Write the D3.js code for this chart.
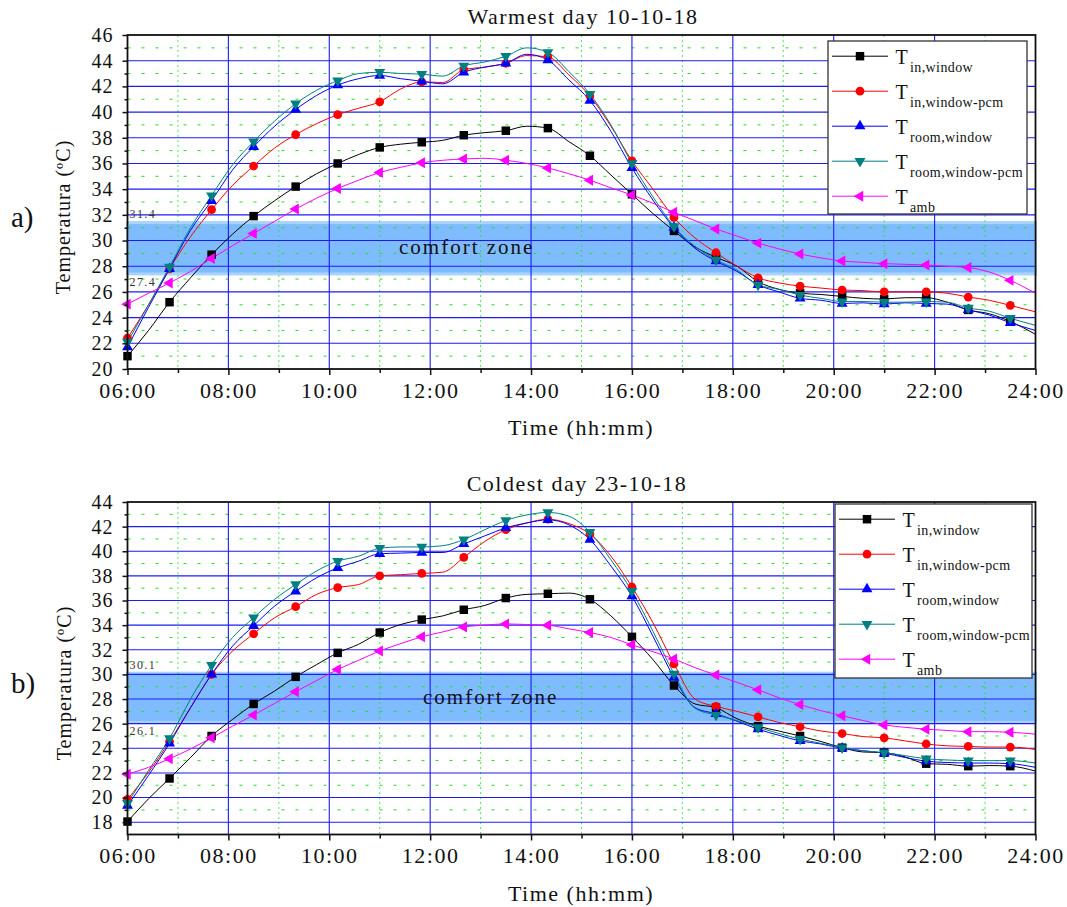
<!DOCTYPE html>
<html>
<head>
<meta charset="utf-8">
<script src="https://cdn.jsdelivr.net/npm/d3@7"></script>
<style>
  body { margin: 0; background: #ffffff; }
  svg text { font-family: "Liberation Serif", "Times New Roman", serif; fill: #111; }
</style>
</head>
<body>
<svg id="fig" width="1067" height="907"></svg>
<script>
// Sampling instants (every 25 min, markers on every second sample)
const sampleTimes = ["06:00","06:25","06:50","07:15","07:40","08:05","08:30","08:55","09:20","09:45",
  "10:10","10:35","11:00","11:25","11:50","12:15","12:40","13:05","13:30","13:55",
  "14:20","14:45","15:10","15:35","16:00","16:25","16:50","17:15","17:40","18:05",
  "18:30","18:55","19:20","19:45","20:10","20:35","21:00","21:25","21:50","22:15",
  "22:40","23:05","23:30","24:00"];

const timeTicks = ["06:00","08:00","10:00","12:00","14:00","16:00","18:00","20:00","22:00","24:00"];

const seriesKeys = ["in,window", "in,window-pcm", "room,window", "room,window-pcm", "amb"];

// Warmest day 10-10-18 (°C)
const warmInWindow = [21.0,23.0,25.2,27.1,28.9,30.5,31.9,33.1,34.2,35.2,36.0,36.7,37.25,37.5,37.65,37.8,38.2,38.4,38.55,38.9,
  38.75,37.7,36.6,35.1,33.6,32.1,30.75,29.5,28.7,28.0,26.8,26.2,25.9,25.8,25.65,25.5,25.45,25.55,25.55,25.2,24.6,24.3,23.7,22.7];
const warmInWindowPcm = [22.4,25.0,27.8,30.3,32.4,34.3,35.8,37.2,38.25,39.1,39.8,40.3,40.8,41.8,42.35,42.3,43.3,43.5,43.8,44.4,
  44.3,42.9,41.25,38.9,36.2,34.0,31.8,30.2,29.05,28.0,27.1,26.7,26.45,26.3,26.15,26.1,26.0,26.0,26.0,25.9,25.6,25.35,24.95,24.45];
const warmRoomWindow = [21.7,24.8,27.8,30.8,33.1,35.5,37.3,38.9,40.2,41.3,42.1,42.6,42.85,42.6,42.4,42.2,43.1,43.5,43.8,44.5,
  44.05,42.5,40.9,38.5,35.65,33.15,31.0,29.4,28.4,27.6,26.55,26.0,25.5,25.35,25.1,25.15,25.05,25.15,25.1,25.05,24.6,24.2,23.6,23.0];
const warmRoomWindowPcm = [22.1,25.0,27.95,31.0,33.5,35.9,37.7,39.3,40.65,41.7,42.45,43.0,43.1,43.0,42.95,42.8,43.6,43.9,44.35,45.0,
  44.65,43.15,41.4,39.0,36.0,33.4,31.1,29.55,28.5,27.7,26.55,26.2,25.75,25.5,25.25,25.25,25.2,25.2,25.25,25.2,24.75,24.5,23.95,23.4];
const warmAmb = [25.05,25.9,26.7,27.6,28.6,29.6,30.55,31.5,32.45,33.3,34.05,34.7,35.3,35.7,36.05,36.25,36.35,36.4,36.25,36.0,
  35.65,35.2,34.7,34.1,33.55,32.9,32.2,31.55,30.9,30.35,29.8,29.35,28.95,28.65,28.4,28.3,28.2,28.15,28.1,28.0,27.9,27.55,26.9,25.9];

// Coldest day 23-10-18 (°C)
const coldInWindow = [18.05,19.9,21.55,23.25,25.0,26.35,27.6,28.65,29.8,30.8,31.75,32.45,33.4,34.05,34.45,34.75,35.25,35.6,36.2,36.5,
  36.55,36.6,36.1,34.75,33.05,31.2,29.1,27.6,27.3,26.4,25.8,25.4,25.0,24.55,24.05,23.7,23.65,23.3,22.75,22.7,22.55,22.6,22.55,22.15];
const coldInWindowPcm = [19.85,22.05,24.55,27.3,30.0,31.9,33.3,34.6,35.5,36.5,37.05,37.3,38.0,38.1,38.2,38.3,39.5,40.8,41.75,42.3,
  42.6,42.25,41.4,39.6,37.1,34.2,30.85,28.0,27.4,27.0,26.55,26.1,25.75,25.4,25.2,24.95,24.85,24.6,24.35,24.2,24.15,24.1,24.1,23.9];
const coldRoomWindow = [19.35,21.8,24.4,27.3,30.0,32.3,33.95,35.55,36.75,37.85,38.65,39.2,39.8,39.85,39.9,39.9,40.6,41.25,41.9,42.3,
  42.55,42.15,40.95,38.8,36.35,33.1,29.75,27.3,26.8,26.2,25.55,25.05,24.6,24.35,24.0,23.8,23.6,23.25,22.95,22.85,22.8,22.8,22.75,22.45];
const coldRoomWindowPcm = [19.55,22.2,24.8,28.0,30.75,33.0,34.6,36.1,37.3,38.4,39.2,39.6,40.25,40.35,40.35,40.45,40.95,41.75,42.5,42.95,
  43.15,42.85,41.55,39.3,36.75,33.5,30.05,27.25,26.7,26.25,25.7,25.2,24.75,24.4,24.05,23.8,23.65,23.4,23.15,23.05,23.0,23.0,23.0,22.8];
const coldAmb = [21.9,22.45,23.15,23.95,24.85,25.8,26.7,27.65,28.6,29.5,30.4,31.15,31.9,32.5,33.05,33.45,33.85,34.0,34.1,34.05,
  34.0,33.7,33.4,33.0,32.4,31.85,31.25,30.55,29.95,29.35,28.75,28.1,27.55,27.05,26.65,26.25,25.9,25.7,25.55,25.45,25.35,25.35,25.3,25.15];

const warmYTicks = [20,22,24,26,28,30,32,34,36,38,40,42,44,46];
const coldYTicks = [18,20,22,24,26,28,30,32,34,36,38,40,42,44];
const warmComfort = [27.4, 31.4];
const coldComfort = [26.1, 30.1];

const toHours = s => { const [h, m] = s.split(":").map(Number); return h + m / 60; };

const styles = [
  { color: "#000000", symbol: d3.symbolSquare,   size: 72, rotate: 0 },
  { color: "#ff0000", symbol: d3.symbolCircle,   size: 60, rotate: 0 },
  { color: "#0000ff", symbol: d3.symbolTriangle, size: 52, rotate: 0 },
  { color: "#008080", symbol: d3.symbolTriangle, size: 52, rotate: 180 },
  { color: "#ff00ff", symbol: d3.symbolTriangle, size: 52, rotate: -90 }
];

const svg = d3.select("#fig");
const left = 127.5, right = 1035.5;

function drawPanel(p) {
  const x = d3.scaleLinear().domain([6, 24]).range([left, right]);
  const y = d3.scaleLinear().domain(p.yDomain).range([p.bottom, p.top]);
  const g = svg.append("g");

  // comfort band
  g.append("rect")
    .attr("x", x(6)).attr("width", x(24) - x(6))
    .attr("y", y(p.comfort[1])).attr("height", y(p.comfort[0]) - y(p.comfort[1]))
    .attr("fill", "#7fbcff").attr("stroke", "#a8d3ff").attr("stroke-width", 3);

  // minor grid (odd values / odd hours)
  const minorY = d3.range(Math.ceil(p.yDomain[0]), p.yDomain[1]).filter(v => v % 2 === 1 && v > p.yDomain[0]);
  g.selectAll(null).data(minorY).join("line")
    .attr("x1", x(6)).attr("x2", x(24)).attr("y1", d => y(d)).attr("y2", d => y(d))
    .attr("stroke", "#22dd22").attr("stroke-width", 1).attr("stroke-dasharray", "3,11");
  const minorX = d3.range(7, 24, 2);
  g.selectAll(null).data(minorX).join("line")
    .attr("x1", d => x(d)).attr("x2", d => x(d)).attr("y1", p.top).attr("y2", p.bottom)
    .attr("stroke", "#22dd22").attr("stroke-width", 1).attr("stroke-dasharray", "2,3").attr("opacity", 0.75);

  // major grid
  g.selectAll(null).data(p.yTicks.filter(v => y(v) > p.top + 1 && y(v) < p.bottom - 1)).join("line")
    .attr("x1", x(6)).attr("x2", x(24)).attr("y1", d => y(d)).attr("y2", d => y(d))
    .attr("stroke", "#1c1cf0").attr("stroke-width", 1.1);
  g.selectAll(null).data(d3.range(8, 24, 2)).join("line")
    .attr("x1", d => x(d)).attr("x2", d => x(d)).attr("y1", p.top).attr("y2", p.bottom)
    .attr("stroke", "#1c1cf0").attr("stroke-width", 1.1);

  // comfort labels
  g.append("text").attr("x", x(6) + 2).attr("y", y(p.comfort[1]) - 4.5)
    .attr("font-size", 12).attr("letter-spacing", 1.4).style("fill", "#333").text(p.comfort[1].toFixed(1));
  g.append("text").attr("x", x(6) + 2).attr("y", y(p.comfort[0]) + 12.5)
    .attr("font-size", 12).attr("letter-spacing", 1.4).style("fill", "#333").text(p.comfort[0].toFixed(1));
  g.append("text").attr("x", p.zoneX).attr("y", y((p.comfort[0] + p.comfort[1]) / 2) + 6)
    .attr("font-size", 21).attr("letter-spacing", 2).text("comfort zone");

  // series
  const times = sampleTimes.map(toHours);
  const line = d3.line().x((d, i) => x(times[i])).y(d => y(d)).curve(d3.curveMonotoneX);
  p.series.forEach((vals, k) => {
    const st = styles[k];
    g.append("path").attr("d", line(vals)).attr("fill", "none")
      .attr("stroke", st.color).attr("stroke-width", 1);
  });
  p.series.forEach((vals, k) => {
    const st = styles[k];
    const sym = d3.symbol().type(st.symbol).size(st.size);
    g.selectAll(null).data(vals.map((v, i) => ({ v, i })).filter(d => d.i % 2 === 0 && times[d.i] < 24))
      .join("path")
      .attr("d", sym)
      .attr("transform", d => `translate(${x(times[d.i])},${y(d.v)}) rotate(${st.rotate})`)
      .attr("fill", st.color);
  });

  // frame
  g.append("rect").attr("x", left).attr("y", p.top).attr("width", right - left).attr("height", p.bottom - p.top)
    .attr("fill", "none").attr("stroke", "#111").attr("stroke-width", 1.8);

  // axes
  const yAxis = d3.axisLeft(y).tickValues(p.yTicks).tickSize(5).tickSizeOuter(0).tickPadding(9).tickFormat(d3.format("d"));
  const ya = g.append("g").attr("transform", `translate(${left},0)`).call(yAxis);
  ya.select(".domain").remove();
  ya.selectAll("line").attr("stroke", "#111").attr("stroke-width", 1.5);
  ya.selectAll("text").attr("font-size", 20).attr("letter-spacing", 1)
    .style("font-family", "'Liberation Serif', serif").style("fill", "#111");
  const yMinor = d3.axisLeft(y).tickValues(minorY).tickSize(3).tickSizeOuter(0).tickFormat("");
  const ym = g.append("g").attr("transform", `translate(${left},0)`).call(yMinor);
  ym.select(".domain").remove();
  ym.selectAll("line").attr("stroke", "#111").attr("stroke-width", 1.5);

  const xAxis = d3.axisBottom(x).tickValues(timeTicks.map(toHours)).tickSize(6).tickSizeOuter(0)
    .tickPadding(7).tickFormat((d, i) => timeTicks[i]);
  const xa = g.append("g").attr("transform", `translate(0,${p.bottom})`).call(xAxis);
  xa.select(".domain").remove();
  xa.selectAll("line").attr("stroke", "#111").attr("stroke-width", 1.5);
  xa.selectAll("text").attr("font-size", 22).attr("letter-spacing", 1.5)
    .style("font-family", "'Liberation Serif', serif").style("fill", "#111");
  const xMinor = d3.axisBottom(x).tickValues(minorX).tickSize(4).tickSizeOuter(0).tickFormat("");
  const xm = g.append("g").attr("transform", `translate(0,${p.bottom})`).call(xMinor);
  xm.select(".domain").remove();
  xm.selectAll("line").attr("stroke", "#111").attr("stroke-width", 1.5);

  // titles
  g.append("text").attr("x", p.titleX).attr("y", p.top - 11).attr("text-anchor", "middle")
    .attr("font-size", 22).attr("letter-spacing", 1.5).text(p.title);
  g.append("text").attr("x", 581).attr("y", p.bottom + 66).attr("text-anchor", "middle")
    .attr("font-size", 22).attr("letter-spacing", 1.5).text("Time (hh:mm)");
  g.append("text").attr("transform", `translate(${p.yLabelX},${p.yLabelY}) rotate(-90)`)
    .attr("text-anchor", "middle").attr("font-size", 20).attr("letter-spacing", 1)
    .text("Temperatura (ºC)");
  g.append("text").attr("x", 11).attr("y", p.letterY).attr("font-size", 29).text(p.letter);

  // legend
  const lg = g.append("g").attr("transform", `translate(${p.legend.x},${p.legend.y})`);
  lg.append("rect").attr("width", p.legend.w).attr("height", p.legend.h)
    .attr("fill", "#ffffff").attr("stroke", "#333").attr("stroke-width", 1.3);
  seriesKeys.forEach((key, k) => {
    const st = styles[k];
    const ry = 15.2 + k * 35;
    lg.append("line").attr("x1", 4).attr("x2", 60).attr("y1", ry).attr("y2", ry)
      .attr("stroke", st.color).attr("stroke-width", 1);
    lg.append("path").attr("d", d3.symbol().type(st.symbol).size(st.size))
      .attr("transform", `translate(32,${ry}) rotate(${st.rotate})`).attr("fill", st.color);
    lg.append("text").attr("x", 67.5).attr("y", ry + 7.3).attr("font-size", 20).text("T");
    lg.append("text").attr("x", 82).attr("y", ry + 16).attr("font-size", 14)
      .attr("letter-spacing", 0.4).text(key);
  });
}

drawPanel({
  top: 35, bottom: 369, yDomain: [20, 46], yTicks: warmYTicks, comfort: warmComfort,
  series: [warmInWindow, warmInWindowPcm, warmRoomWindow, warmRoomWindowPcm, warmAmb],
  title: "Warmest day 10-10-18", titleX: 583, zoneX: 399,
  yLabelX: 70, yLabelY: 217, letter: "a)", letterY: 227,
  legend: { x: 828, y: 41, w: 199, h: 173 }
});

drawPanel({
  top: 502, bottom: 834.5, yDomain: [17, 44], yTicks: coldYTicks, comfort: coldComfort,
  series: [coldInWindow, coldInWindowPcm, coldRoomWindow, coldRoomWindowPcm, coldAmb],
  title: "Coldest day 23-10-18", titleX: 577, zoneX: 423,
  yLabelX: 71, yLabelY: 683, letter: "b)", letterY: 693,
  legend: { x: 835, y: 504, w: 197, h: 174 }
});
</script>
</body>
</html>
